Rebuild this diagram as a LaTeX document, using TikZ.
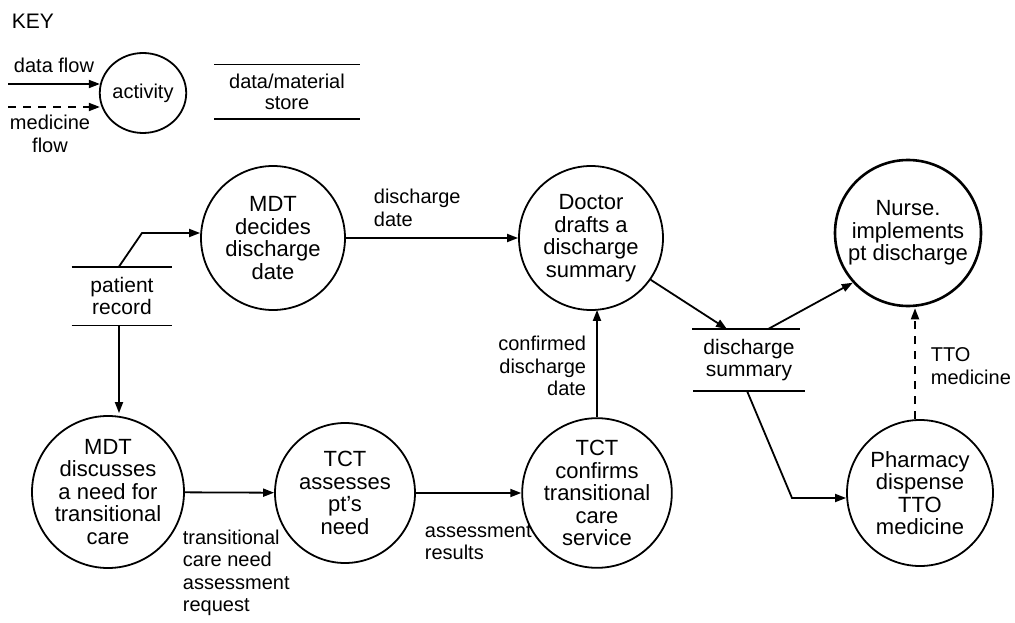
\documentclass[tikz,border=0pt]{standalone}
\usepackage{fontspec}
\setmainfont{Liberation Sans}
\usetikzlibrary{arrows.meta,calc,shapes.geometric}
\begin{document}
\begin{tikzpicture}[x=1pt,y=-1pt,line width=1.8pt,
  act/.style={circle,draw,line width=1.8pt,inner sep=0pt,align=center,font=\fontsize{22}{22.5}\selectfont},
  store/.style={draw=none,inner sep=0pt,align=center,font=\fontsize{21}{22}\selectfont},
  lbl/.style={inner sep=0pt,font=\fontsize{20}{22.5}\selectfont},
  arr/.style={-{Triangle[length=11pt,width=8pt]},line width=1.8pt},
  med/.style={arr,dash pattern=on 8pt off 7pt}
]
\useasboundingbox (0,0) rectangle (1015,623);

% KEY
\node[lbl,anchor=west,font=\fontsize{21}{22}\selectfont] (key) at (11,21) {KEY};
\node[lbl] (kdf) at (54,65) {data flow};
\node[lbl,align=center] (kmf) at (50,134) {medicine\\flow};
\node[ellipse,draw,line width=1.8pt,minimum width=70pt,minimum height=80pt,inner sep=0pt,font=\fontsize{20}{22}\selectfont] (kact) at (143,93) {activity};
\coordinate (kd1) at (8,84);
\coordinate (kd2) at (8,107);
\draw[arr] (kd1) -- ($(kact.west |- kd1)+(1,0)$);
\draw[med] (kd2) -- ($(kact.west |- kd2)+(1,0)$);
\node[store,minimum width=144pt,minimum height=53pt,font=\fontsize{20}{20.5}\selectfont] (kst) at (287,92) {data/material\\store};
\draw (kst.north west) -- (kst.north east) (kst.south west) -- (kst.south east);

% activities
\node[act,minimum size=144pt] (mdtd) at (273,238) {MDT\\decides\\discharge\\date};
\node[act,minimum size=144pt] (doc) at (591,238) {Doctor\\drafts a\\discharge\\summary};
\node[act,minimum size=146pt,line width=2.6pt] (nurse) at (908,233) {Nurse.\\implements\\pt discharge};
\node[act,minimum size=152pt] (mdtdisc) at (108,492) {MDT\\discusses\\a need for\\transitional\\care};
\node[act,minimum size=140pt] (tcta) at (345,493) {TCT\\assesses\\pt’s\\need};
\node[act,minimum size=142pt] (tctc) at (597,493) {TCT\\confirms\\transitional\\care\\service};
\node[act,minimum size=146pt] (pharm) at (920,493) {Pharmacy\\dispense\\TTO\\medicine};

% stores
\node[store,minimum width=99pt,minimum height=57pt] (pr) at (122,296) {patient\\record};
\draw (pr.north west) -- (pr.north east) (pr.south west) -- (pr.south east);
\node[store,minimum width=110pt,minimum height=60pt] (ds) at (749,360) {discharge\\summary};
\draw ($(ds.north west)+(-1,0)$) -- ($(ds.north east)+(-5,0)$) (ds.south west) -- (ds.south east);

% flows
\coordinate (b1) at (142,233);
\draw[arr] ($(pr.north)+(-3,0)$) -- (b1) -- (b1 -| mdtd.west);
\draw[arr] ($(pr.south)+(-3,0)$) -- ($(pr.south |- mdtdisc.north)+(-3,-2)$);
\draw[arr] (mdtd) -- (doc);
\draw[arr] (mdtdisc) -- (tcta);
\draw[arr] (tcta) -- (tctc);
\draw[arr] (tctc.north) -- ($(tctc.north |- doc.south)+(0,-1)$);
\draw[arr] (doc.-35) -- ($(ds.north)+(-22,0)$);
\draw[arr] ($(ds.north)+(19,0)$) -- (nurse.222);
\coordinate (b2) at (792,498);
\draw[arr] ($(ds.south)+(-2,0)$) -- (b2) -- (b2 -| pharm.west);
\draw[med] ($(pharm.north)+(-5,0)$) -- ($(pharm.north |- nurse.south)+(-5,1)$);

% labels
\node[lbl,anchor=west,align=left] (l1) at (373,208) {discharge\\date};
\node[lbl,anchor=east,align=right] (l2) at (587,366) {confirmed\\discharge\\date};
\node[lbl,anchor=west,align=left] (l3) at (182,573) {transitional\\care need\\assessment\\request};
\node[lbl,anchor=west,align=left] (l4) at (424,542) {assessment\\results};
\node[lbl,anchor=west,align=left] (l5) at (930,366) {TTO\\medicine};
\end{tikzpicture}
\end{document}
